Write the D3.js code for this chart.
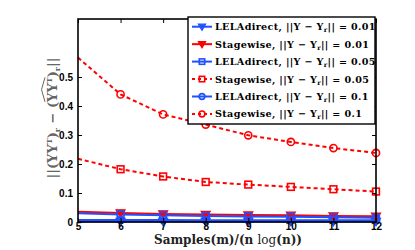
<!DOCTYPE html>
<html><head><meta charset="utf-8">
<script src="https://cdn.jsdelivr.net/npm/d3@7"></script>
<style>body{margin:0;background:#fff}svg{display:block}</style>
</head><body>
<script>
const samples = [5, 6, 7, 8, 9, 10, 11, 12];
const lelaDirect001 = [0.002, 0.002, 0.002, 0.002, 0.002, 0.002, 0.002, 0.002];
const stagewise001 = [0.035, 0.031, 0.028, 0.026, 0.024, 0.023, 0.021, 0.020];
const lelaDirect005 = [0.030, 0.026, 0.023, 0.021, 0.019, 0.018, 0.016, 0.015];
const stagewise005 = [0.218, 0.182, 0.157, 0.138, 0.129, 0.121, 0.113, 0.105];
const lelaDirect01 = [0.007, 0.007, 0.007, 0.006, 0.006, 0.006, 0.006, 0.006];
const stagewise01 = [0.567, 0.440, 0.371, 0.336, 0.299, 0.276, 0.255, 0.238];
const xTicks = [5, 6, 7, 8, 9, 10, 11, 12];
const yTicks = [0, 0.1, 0.2, 0.3, 0.4, 0.5];
const seriesNames = [
  ["LELAdirect, ", "0.01"], ["Stagewise, ", "0.01"],
  ["LELAdirect, ", "0.05"], ["Stagewise, ", "0.05"],
  ["LELAdirect, ", "0.1"], ["Stagewise, ", "0.1"]
];

const RED = "#ff0000", BLUE = "#2050ff";
const series = [
  {v: lelaDirect001, c: BLUE, dash: null, m: "tri"},
  {v: stagewise001, c: RED, dash: null, m: "tri"},
  {v: lelaDirect005, c: BLUE, dash: null, m: "sq"},
  {v: stagewise005, c: RED, dash: "4,3", m: "sq"},
  {v: lelaDirect01, c: BLUE, dash: null, m: "circ"},
  {v: stagewise01, c: RED, dash: "4,3", m: "circ"}
];

const W = 415, H = 250;
const L = 78, R = 376, T = 19, B = 222;
const svg = d3.select("body").append("svg").attr("width", W).attr("height", H);
const x = d3.scaleLinear().domain([5, 12]).range([L, R]);
const y = d3.scaleLinear().domain([0, 0.7]).range([B, T]);

function marker(g, type, cx, cy, color, size) {
  if (type === "tri") {
    const s = size;
    g.append("path").attr("d", `M${cx - s},${cy - s * 0.7}L${cx + s},${cy - s * 0.7}L${cx},${cy + s}Z`)
      .attr("fill", color).attr("stroke", color).attr("stroke-width", 1.2);
  } else if (type === "sq") {
    const s = size * 0.75;
    g.append("rect").attr("x", cx - s).attr("y", cy - s).attr("width", 2 * s).attr("height", 2 * s)
      .attr("fill", "none").attr("stroke", color).attr("stroke-width", 1.6);
  } else {
    g.append("circle").attr("cx", cx).attr("cy", cy).attr("r", size * 0.8)
      .attr("fill", "none").attr("stroke", color).attr("stroke-width", 1.6);
  }
}

const plot = svg.append("g");
const line = d3.line().x((d, i) => x(samples[i])).y(d => y(d));
series.forEach(s => {
  plot.append("path").datum(s.v).attr("d", line).attr("fill", "none")
    .attr("stroke", s.c).attr("stroke-width", 2).attr("stroke-dasharray", s.dash);
});
series.forEach(s => {
  s.v.forEach((d, i) => { if (i > 0) marker(plot, s.m, x(samples[i]), y(d), s.c, 4.5); });
});

// axes box
svg.append("rect").attr("x", L).attr("y", T).attr("width", R - L).attr("height", B - T)
  .attr("fill", "none").attr("stroke", "#000").attr("stroke-width", 1.6);

const tickFont = "bold 10px 'Liberation Sans', Arial, sans-serif";
const xAxis = d3.axisBottom(x).tickValues(xTicks).tickSize(-4).tickPadding(1).tickFormat(d3.format("d"));
svg.append("g").attr("transform", `translate(0,${B})`).call(xAxis);
const yAxis = d3.axisLeft(y).tickValues(yTicks).tickSize(-4).tickPadding(5).tickFormat(d => d === 0 ? "0" : d3.format(".1f")(d));
svg.append("g").attr("transform", `translate(${L},0)`).call(yAxis);
const xTop = d3.axisTop(x).tickValues(xTicks).tickSize(-4).tickFormat("");
svg.append("g").attr("transform", `translate(0,${T})`).call(xTop);
const yRight = d3.axisRight(y).tickValues(yTicks).tickSize(-4).tickFormat("");
svg.append("g").attr("transform", `translate(${R},0)`).call(yRight);
svg.selectAll(".domain").remove();
svg.selectAll(".tick line").attr("stroke", "#000").attr("stroke-width", 1);
svg.selectAll(".tick text").style("font", tickFont).attr("fill", "#000");

// legend
const lg = svg.append("g");
const lx = 188, ly = 17, lw = 187, lh = 107;
lg.append("rect").attr("x", lx).attr("y", ly).attr("width", lw).attr("height", lh)
  .attr("fill", "#fff").attr("stroke", "#000").attr("stroke-width", 1.4);
seriesNames.forEach((nm, i) => {
  const s = series[i];
  const cy = 26.7 + i * 17.45;
  lg.append("line").attr("x1", 192).attr("x2", 212).attr("y1", cy).attr("y2", cy)
    .attr("stroke", s.c).attr("stroke-width", 2).attr("stroke-dasharray", s.dash ? "3,3" : null);
  marker(lg, s.m, 202, cy, s.c, 3.6);
  const t = lg.append("text").attr("x", 215).attr("y", cy + 3.5)
    .style("font", "bold 9.6px 'DejaVu Serif', serif").style("letter-spacing", "0.35px").attr("fill", "#000");
  t.append("tspan").text(nm[0]);
  t.append("tspan").text("||Y − Y");
  t.append("tspan").attr("dy", 2).style("font-size", "6.5px").text("r");
  t.append("tspan").attr("dy", -2).text("|| = " + nm[1]);
});

// x label
const xl = svg.append("text").attr("x", 228).attr("y", 244).attr("text-anchor", "middle")
  .style("font", "bold 12px 'DejaVu Serif', serif").attr("fill", "#222");
xl.append("tspan").text("Samples(m)/(n ");
xl.append("tspan").style("font-weight", "normal").text("log");
xl.append("tspan").text("(n))");

// y label
const yl = svg.append("text").attr("transform", "translate(57,118) rotate(-90)").attr("text-anchor", "middle")
  .style("font", "bold 13px 'DejaVu Serif', serif").attr("fill", "#666");
yl.append("tspan").text("||(YY");
yl.append("tspan").attr("dy", -5).style("font-size", "8px").text("T");
yl.append("tspan").attr("dy", 5).text(")");
yl.append("tspan").attr("dy", 3).style("font-size", "8px").text("r");
yl.append("tspan").attr("dy", -3).text(" − (");
const hatStart = yl.text().length;
yl.append("tspan").text("YY");
yl.append("tspan").attr("dy", -5).style("font-size", "8px").text("T");
const hatEnd = yl.text().length - 1;
yl.append("tspan").attr("dy", 5).text(")");
yl.append("tspan").attr("dy", 3).style("font-size", "8px").text("r");
yl.append("tspan").attr("dy", -3).text("||");
try {
  const n = yl.node();
  const a = n.getExtentOfChar(hatStart), b = n.getExtentOfChar(hatEnd);
  const x0 = a.x, x1 = b.x + b.width, top = a.y - 1;
  svg.append("path").attr("transform", "translate(57,118) rotate(-90)")
    .attr("d", `M${x0},${top + 1}L${(x0 + x1) / 2},${top - 2.5}L${x1},${top + 1}`)
    .attr("fill", "none").attr("stroke", "#666").attr("stroke-width", 1);
} catch (e) {}
</script>
</body></html>
